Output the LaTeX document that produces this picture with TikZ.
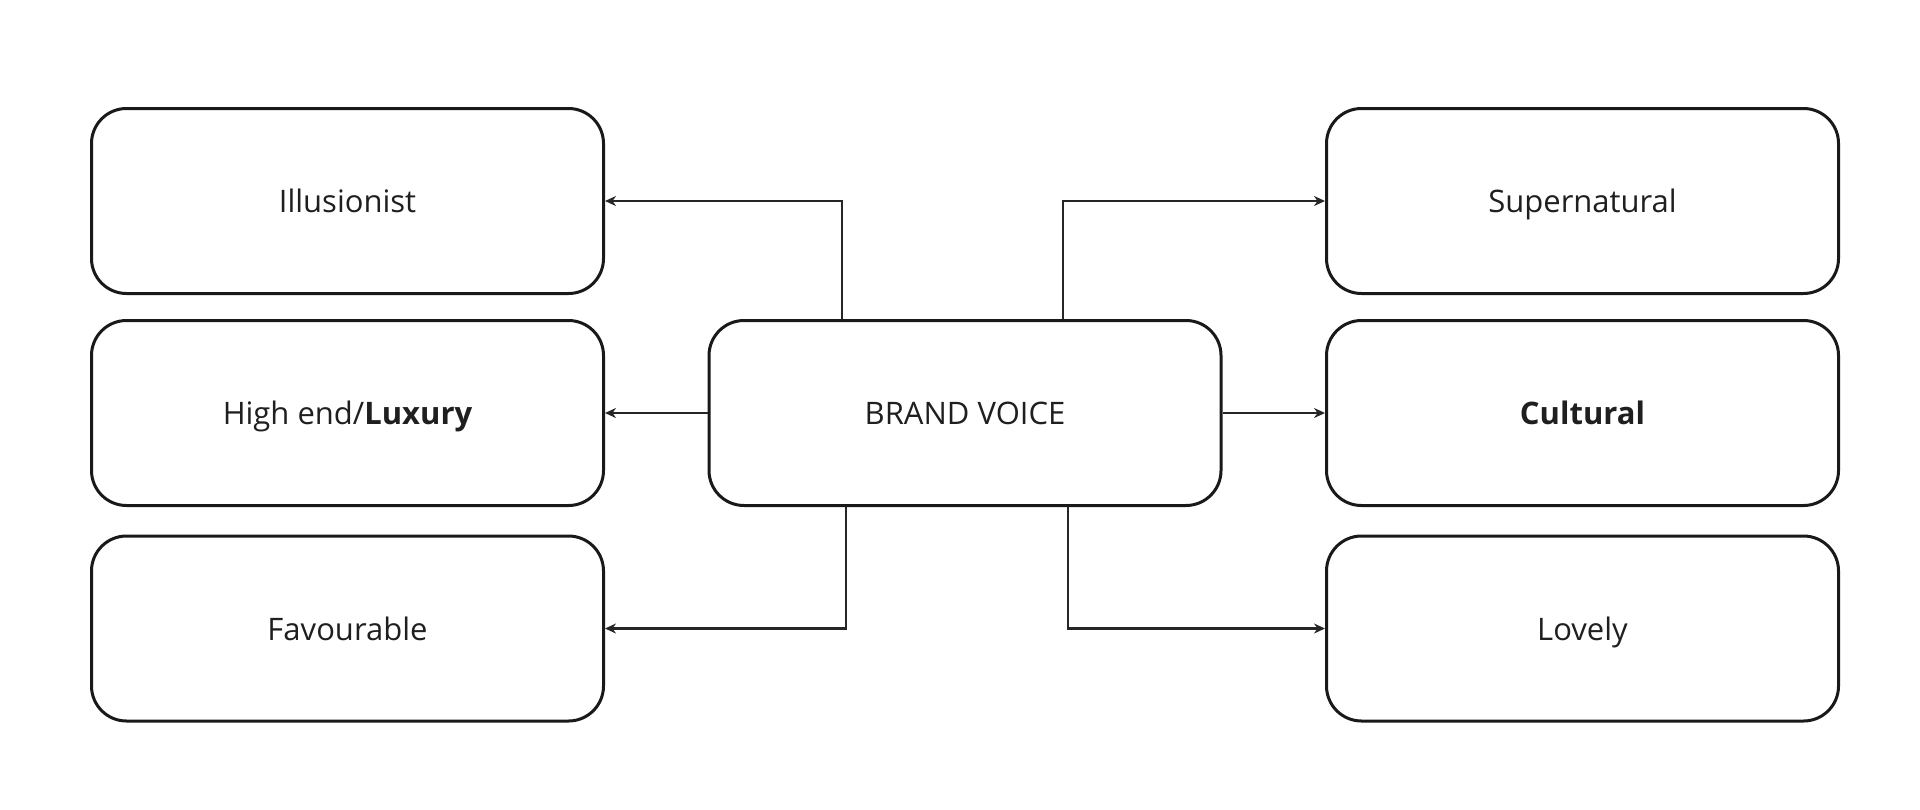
\documentclass[tikz,border=0pt]{standalone}
\usepackage{fontspec}
\setmainfont{Open Sans}
\usetikzlibrary{arrows.meta}
\begin{document}
\begin{tikzpicture}[x=0.5pt,y=-0.5pt,
  box/.style={draw=black!90, line width=1.5pt, rounded corners=17.5pt, minimum width=256pt, minimum height=92.5pt, text height=11.8pt, text depth=0pt, text=black!88, font=\fontsize{15.5}{18}\selectfont},
  link/.style={draw=black!85, line width=1.4pt, -{Stealth[length=5.5pt,width=5pt]}}]
\useasboundingbox (0,0) rectangle (1920,809);
\node [box] (voice) at (965,413) {BRAND VOICE};
\node [box] (ill) at (347.5,201) {Illusionist};
\node [box] (lux) at (347.5,413) {High end/\textbf{Luxury}};
\node [box] (fav) at (347.5,628.5) {Favourable};
\node [box] (sup) at (1582.5,201) {Supernatural};
\node [box] (cul) at (1582.5,413) {\textbf{Cultural}};
\node [box] (lov) at (1582.5,628.5) {Lovely};
\draw [link] ([xshift=-61.5pt]voice.north) |- (ill.east);
\draw [link] ([xshift=49pt]voice.north) |- (sup.west);
\draw [link] (voice.west) -- (lux.east);
\draw [link] (voice.east) -- (cul.west);
\draw [link] ([xshift=-59.5pt]voice.south) |- (fav.east);
\draw [link] ([xshift=51.5pt]voice.south) |- (lov.west);
\end{tikzpicture}
\end{document}
